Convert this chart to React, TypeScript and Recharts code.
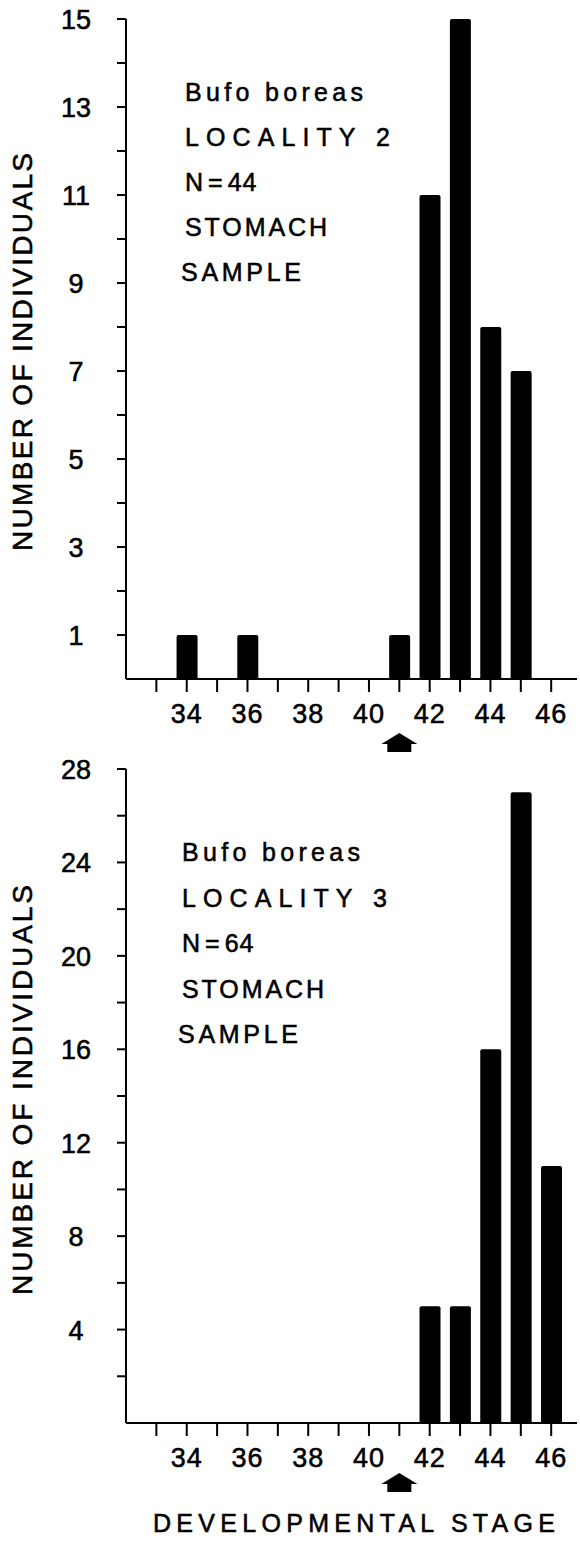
import React from "react";
import { Bar, BarChart, ReferenceDot, XAxis, YAxis } from "recharts";

// values
const topStages = [34, 36, 41, 42, 43, 44, 45];
const topCounts = [1, 1, 1, 11, 15, 8, 7];
const bottomStages = [42, 43, 44, 45, 46];
const bottomCounts = [5, 5, 16, 27, 11];

const stageTicks = [33, 34, 35, 36, 37, 38, 39, 40, 41, 42, 43, 44, 45, 46];
const topCountTicks = [1, 2, 3, 4, 5, 6, 7, 8, 9, 10, 11, 12, 13, 14, 15];
const bottomCountTicks = [2, 4, 6, 8, 10, 12, 14, 16, 18, 20, 22, 24, 26, 28];
const metamorphosisStage = 41;

const topNotes = ["Bufo boreas", "LOCALITY 2", "N=44", "STOMACH", "SAMPLE"];
const bottomNotes = ["Bufo boreas", "LOCALITY 3", "N=64", "STOMACH", "SAMPLE"];
const yTitle = "NUMBER OF INDIVIDUALS";
const xTitle = "DEVELOPMENTAL STAGE";

const topData = topStages.map((stage, i) => ({ stage, count: topCounts[i] }));
const bottomData = bottomStages.map((stage, i) => ({ stage, count: bottomCounts[i] }));

const FONT = "'Liberation Sans', Arial, sans-serif";
const INK = "#000";
// the lettering in the scan is a bit heavier than a regular face
const heavy = { stroke: INK, strokeWidth: 0.55 };

const StageTick = (props: any) => {
  const { x, y, payload } = props;
  if (payload.value % 2 !== 0) return <g />;
  return (
    <text x={x} y={y} dy={29} textAnchor="middle" fontFamily={FONT} fontSize={27} fill={INK} letterSpacing={1} {...heavy}>
      {payload.value}
    </text>
  );
};

const makeCountTick = (step: number) => (props: any) => {
  const { x, y, payload } = props;
  if (payload.value % step !== (step === 2 ? 1 : 0)) return <g />;
  return (
    <text x={x - 39} y={y} dy={10} textAnchor="middle" fontFamily={FONT} fontSize={27} fill={INK} {...heavy}>
      {payload.value}
    </text>
  );
};

const arrowShape = (drop: number) => (props: any) => {
  const { cx, cy } = props;
  const t = cy + drop;
  const d = `M${cx},${t} L${cx + 18},${t + 11} L${cx + 12},${t + 11} L${cx + 12},${t + 19} L${cx - 12},${t + 19} L${cx - 12},${t + 11} L${cx - 18},${t + 11} Z`;
  return <path d={d} fill={INK} />;
};

const axisStyle = { stroke: INK, strokeWidth: 2 };

const noteWidths = [178, 205, 85, 142, 120];

const Notes = ({ lines, x, y0, gap }: { lines: string[]; x: number; y0: number; gap: number }) => (
  <g fontFamily={FONT} fontSize={25} fill={INK} {...heavy}>
    {lines.map((t, i) => {
      if (t.includes("=")) {
        // "N = 44": space around the sign, digits kept together
        const [lhs, rhs] = t.split("=");
        return (
          <text key={t} x={x} y={y0 + i * gap}>
            <tspan>{lhs}</tspan>
            <tspan dx={5}>=</tspan>
            <tspan dx={5} letterSpacing={1}>{rhs}</tspan>
          </text>
        );
      }
      return (
        <text
          key={t}
          x={i === 4 ? x - 4 : x}
          y={y0 + i * gap}
          textLength={noteWidths[i]}
          lengthAdjust="spacing"
        >
          {t}
        </text>
      );
    })}
  </g>
);

export default function App() {
  return (
    <div style={{ position: "absolute", left: 0, top: 0, width: 580, height: 1548, background: "#fff" }}>
      <div style={{ position: "absolute", left: 0, top: 0 }}>
        <BarChart width={580} height={760} data={topData} margin={{ top: 19, right: 3, left: 0, bottom: 0 }}>
          <XAxis
            dataKey="stage"
            type="number"
            domain={[32, 46.85]}
            ticks={stageTicks}
            interval={0}
            tickSize={13}
            height={81}
            axisLine={axisStyle}
            tickLine={axisStyle}
            tick={StageTick}
          />
          <YAxis
            type="number"
            domain={[0, 15]}
            ticks={topCountTicks}
            interval={0}
            tickSize={9}
            width={126}
            axisLine={axisStyle}
            tickLine={axisStyle}
            tick={makeCountTick(2)}
          />
          <Bar dataKey="count" fill={INK} barSize={21} radius={[2, 2, 0, 0]} isAnimationActive={false} />
          <ReferenceDot x={metamorphosisStage} y={0} r={0} ifOverflow="visible" shape={arrowShape(54)} />
        </BarChart>
      </div>
      <div style={{ position: "absolute", left: 0, top: 740 }}>
        <BarChart width={580} height={808} data={bottomData} margin={{ top: 29, right: 3, left: 0, bottom: 0 }}>
          <XAxis
            dataKey="stage"
            type="number"
            domain={[32, 46.85]}
            ticks={stageTicks}
            interval={0}
            tickSize={13}
            height={125}
            axisLine={axisStyle}
            tickLine={axisStyle}
            tick={StageTick}
          />
          <YAxis
            type="number"
            domain={[0, 28]}
            ticks={bottomCountTicks}
            interval={0}
            tickSize={9}
            width={126}
            axisLine={axisStyle}
            tickLine={axisStyle}
            tick={makeCountTick(4)}
          />
          <Bar dataKey="count" fill={INK} barSize={21} radius={[2, 2, 0, 0]} isAnimationActive={false} />
          <ReferenceDot x={metamorphosisStage} y={0} r={0} ifOverflow="visible" shape={arrowShape(50)} />
        </BarChart>
      </div>
      <svg
        width={580}
        height={1548}
        style={{ position: "absolute", left: 0, top: 0, pointerEvents: "none" }}
      >
        <Notes lines={topNotes} x={185} y0={101} gap={45} />
        <Notes lines={bottomNotes} x={182} y0={861} gap={45.5} />
        <text
          transform="translate(32,352) rotate(-90)"
          textAnchor="middle"
          fontFamily={FONT}
          fontSize={28}
          fill={INK}
          textLength={398}
          lengthAdjust="spacing"
          {...heavy}
        >
          {yTitle}
        </text>
        <text
          transform="translate(32,1090) rotate(-90)"
          textAnchor="middle"
          fontFamily={FONT}
          fontSize={28}
          fill={INK}
          textLength={410}
          lengthAdjust="spacing"
          {...heavy}
        >
          {yTitle}
        </text>
        <text
          x={354}
          y={1532}
          textAnchor="middle"
          fontFamily={FONT}
          fontSize={25}
          fill={INK}
          textLength={402}
          lengthAdjust="spacing"
          {...heavy}
        >
          {xTitle}
        </text>
      </svg>
    </div>
  );
}
